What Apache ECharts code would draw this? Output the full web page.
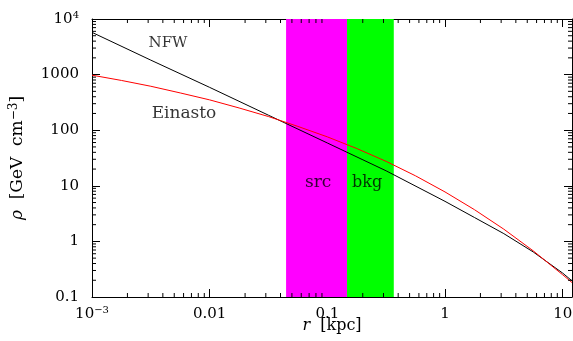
<!DOCTYPE html>
<html>
<head>
<meta charset="utf-8">
<script src="https://cdn.jsdelivr.net/npm/echarts@6/dist/echarts.min.js"></script>
<style>
html, body { margin: 0; padding: 0; background: #fff; }
#chart { width: 573px; height: 341px; }
</style>
</head>
<body>
<div id="chart"></div>
<script>
// profiles (r in kpc, rho in GeV cm^-3)
var rNfw = [0.001, 0.00316, 0.01, 0.0316, 0.1, 0.316, 1, 1.78, 3.16, 5.62, 10, 12];
var rhoNfw = [5750, 1820, 589, 186, 58.9, 18.6, 5.25, 2.69, 1.38, 0.646, 0.269, 0.195];
var rEin = [0.001, 0.00178, 0.00316, 0.00562, 0.01, 0.0178, 0.0316, 0.0562, 0.1, 0.178,
            0.316, 0.562, 1, 1.78, 3.16, 5.62, 10, 12];
var rhoEin = [977, 785, 617, 468, 351, 251, 176, 117, 75.9, 46.8,
              27.5, 15.1, 7.76, 3.72, 1.66, 0.676, 0.251, 0.182];

// src / bkg regions
var bandSrc = [0.0446, 0.147];
var bandBkg = [0.147, 0.367];

var xRange = [0.001, 12];
var yRange = [0.1, 10000];
var xTickExp = [-3, -2, -1, 0, 1];
var xTickText = ['10{sup|\u22123}', '0.01', '0.1', '1', '10'];
var yTickExp = [-1, 0, 1, 2, 3, 4];
var yTickText = ['0.1', '1', '10', '100', '1000', '10{sup|4}'];
var xMinor = [0.002, 0.003, 0.004, 0.005, 0.006, 0.007, 0.008, 0.009,
              0.02, 0.03, 0.04, 0.05, 0.06, 0.07, 0.08, 0.09,
              0.2, 0.3, 0.4, 0.5, 0.6, 0.7, 0.8, 0.9,
              2, 3, 4, 5, 6, 7, 8, 9];
var yMinor = [0.2, 0.3, 0.4, 0.5, 0.6, 0.7, 0.8, 0.9,
              2, 3, 4, 5, 6, 7, 8, 9,
              20, 30, 40, 50, 60, 70, 80, 90,
              200, 300, 400, 500, 600, 700, 800, 900,
              2000, 3000, 4000, 5000, 6000, 7000, 8000, 9000];

var noteText = ['NFW', 'Einasto', 'src', 'bkg'];
var noteR = [0.00443, 0.00605, 0.0836, 0.218];
var noteRho = [3700, 195, 11.2, 11.2];
var noteSize = [15, 17, 17, 16];

var font = 'DejaVu Serif';

function tickFmt(exps, texts) {
	return function (v) {
		var e = Math.log10(v);
		for (var i = 0; i < exps.length; i++) {
			if (Math.abs(e - exps[i]) < 1e-6) return texts[i];
		}
		return '';
	};
}

var labelRich = {
	sup: { fontFamily: font, fontSize: 10, lineHeight: 18, verticalAlign: 'top', color: '#000' }
};

function logAxis(pos, range, show, fmt) {
	return {
		type: 'log',
		logBase: 10,
		position: pos,
		min: range[0],
		max: range[1],
		axisLine: { show: true, lineStyle: { color: '#000', width: 1 } },
		axisTick: { show: true, inside: true, length: 8, lineStyle: { color: '#000', width: 1 } },
		axisLabel: {
			show: show,
			formatter: fmt,
			fontFamily: font,
			fontSize: 15,
			lineHeight: 18,
			color: '#000',
			showMaxLabel: true,
			showMinLabel: true,
			rich: labelRich
		},
		splitLine: { show: false },
		minorTick: { show: false }
	};
}

var xBottom = logAxis('bottom', xRange, true, tickFmt(xTickExp, xTickText));
xBottom.axisLabel.margin = 8;
xBottom.name = '{it|r}  [kpc]';
xBottom.nameLocation = 'middle';
xBottom.nameGap = 21;
xBottom.nameMoveOverlap = false;
xBottom.nameTextStyle = {
	fontFamily: font, fontSize: 16, color: '#000',
	rich: { it: { fontFamily: font, fontSize: 16, fontStyle: 'italic', color: '#000' } }
};
var xTop = logAxis('top', xRange, false, null);

var yLeft = logAxis('left', yRange, true, tickFmt(yTickExp, yTickText));
yLeft.axisLabel.margin = 13;
yLeft.name = '{it|\u03c1}  [GeV  cm{sup|\u22123}]';
yLeft.nameLocation = 'middle';
yLeft.nameRotate = 90;
yLeft.nameGap = 64;
yLeft.nameMoveOverlap = false;
yLeft.nameTextStyle = {
	fontFamily: font, fontSize: 17, color: '#000', lineHeight: 20,
	rich: {
		it: { fontFamily: font, fontSize: 17, fontStyle: 'italic', color: '#000', lineHeight: 20 },
		sup: { fontFamily: font, fontSize: 12, color: '#000', lineHeight: 20, verticalAlign: 'top' }
	}
};
var yRight = logAxis('right', yRange, false, null);

function minorX(params, api) {
	var v = api.value(0);
	var b = api.coord([v, yRange[0]]);
	var t = api.coord([v, yRange[1]]);
	var st = { stroke: '#000', lineWidth: 1 };
	return {
		type: 'group',
		children: [
			{ type: 'line', shape: { x1: b[0], y1: b[1], x2: b[0], y2: b[1] - 4 }, style: st },
			{ type: 'line', shape: { x1: t[0], y1: t[1], x2: t[0], y2: t[1] + 4 }, style: st }
		]
	};
}

function minorY(params, api) {
	var v = api.value(1);
	var l = api.coord([xRange[0], v]);
	var r = api.coord([xRange[1], v]);
	var st = { stroke: '#000', lineWidth: 1 };
	return {
		type: 'group',
		children: [
			{ type: 'line', shape: { x1: l[0], y1: l[1], x2: l[0] + 4, y2: l[1] }, style: st },
			{ type: 'line', shape: { x1: r[0], y1: r[1], x2: r[0] - 4, y2: r[1] }, style: st }
		]
	};
}

var nfwData = [];
for (var i = 0; i < rNfw.length; i++) nfwData.push([rNfw[i], rhoNfw[i]]);
var einData = [];
for (var i = 0; i < rEin.length; i++) einData.push([rEin[i], rhoEin[i]]);
var notes = [];
for (var i = 0; i < noteText.length; i++) {
	notes.push({ name: noteText[i], value: [noteR[i], noteRho[i]], label: { fontSize: noteSize[i] } });
}

var chart = echarts.init(document.getElementById('chart'));
chart.setOption({
	animation: false,
	backgroundColor: '#fff',
	grid: { left: 92, right: 1, top: 19, bottom: 44, containLabel: false, outerBoundsMode: 'none' },
	xAxis: [xBottom, xTop],
	yAxis: [yLeft, yRight],
	series: [
		{
			name: 'bands',
			type: 'line',
			data: [],
			z: 1,
			silent: true,
			markArea: {
				silent: true,
				label: { show: false },
				data: [
					[{ xAxis: bandSrc[0], itemStyle: { color: '#ff00ff', opacity: 1 } }, { xAxis: bandSrc[1] }],
					[{ xAxis: bandBkg[0], itemStyle: { color: '#00ff00', opacity: 1 } }, { xAxis: bandBkg[1] }]
				]
			}
		},
		{
			name: 'NFW',
			type: 'line',
			data: nfwData,
			z: 3,
			smooth: false,
			symbol: 'none',
			lineStyle: { color: '#000', width: 1 }
		},
		{
			name: 'Einasto',
			type: 'line',
			data: einData,
			z: 4,
			smooth: false,
			symbol: 'none',
			lineStyle: { color: '#ff0000', width: 1 }
		},
		{
			name: 'notes',
			type: 'scatter',
			data: notes,
			z: 5,
			symbolSize: 0,
			silent: true,
			label: {
				show: true,
				position: 'inside',
				formatter: '{b}',
				fontFamily: font,
				fontSize: 15,
				color: '#000'
			}
		},
		{ name: 'minorX', type: 'custom', data: xMinor.map(function (v) { return [v, yRange[0]]; }), renderItem: minorX, z: 6, silent: true },
		{ name: 'minorY', type: 'custom', data: yMinor.map(function (v) { return [xRange[0], v]; }), renderItem: minorY, z: 6, silent: true }
	]
});
</script>
</body>
</html>
